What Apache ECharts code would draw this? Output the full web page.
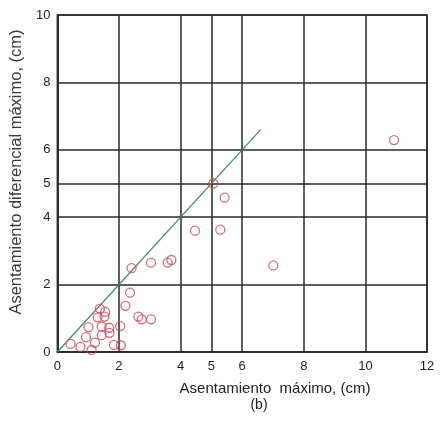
<!DOCTYPE html>
<html>
<head>
<meta charset="utf-8">
<script src="https://cdn.jsdelivr.net/npm/echarts@6/dist/echarts.min.js"></script>
<style>html,body{margin:0;padding:0;background:#fff}#c{width:442px;height:421px}</style>
</head>
<body>
<div id="c"></div>
<script>
// Data
var xValues = [0.43,0.75,0.93,1.01,1.11,1.22,1.31,1.38,1.44,1.44,1.53,1.55,1.68,1.69,1.84,2.04,2.06,2.21,2.36,2.41,2.63,2.74,3.04,3.04,3.58,3.70,4.47,5.06,5.29,5.43,7.01,10.93];
var yValues = [0.24,0.15,0.44,0.74,0.06,0.28,1.03,1.29,0.50,0.75,1.05,1.19,0.72,0.57,0.21,0.77,0.20,1.37,1.76,2.49,1.05,0.97,0.97,2.65,2.65,2.73,3.60,5.00,3.63,4.58,2.57,6.29];
var lineX = [0, 6.6];
var lineY = [0, 6.6];
var xTicks = [0,2,4,5,6,8,10,12];
var yTicks = [0,2,4,5,6,8,10];
var xTitle = 'Asentamiento  máximo, (cm)';
var subTitle = '(b)';
var yTitle = 'Asentamiento diferencial máximo, (cm)';

var pts = xValues.map(function(x,i){return [x, yValues[i]];});
var lineData = lineX.map(function(x,i){return [x, lineY[i]];});
var gridMarks = xTicks.map(function(v){return {xAxis: v};}).concat(yTicks.map(function(v){return {yAxis: v};}));

var font = 'Liberation Sans, Arial, sans-serif';
var chart = echarts.init(document.getElementById('c'), null, {renderer:'canvas'});
chart.setOption({
  animation: false,
  backgroundColor: '#fff',
  grid: {left: 57, right: 15, top: 15, bottom: 69, show: true, borderColor: '#2a2a2a', borderWidth: 1.5, backgroundColor: 'transparent'},
  graphic: [
    {type: 'text', x: 275, y: 389, silent: true,
     style: {text: xTitle, font: '15px ' + font, fill: '#222', textAlign: 'center', textVerticalAlign: 'middle'}},
    {type: 'text', x: 259, y: 405, silent: true,
     style: {text: subTitle, font: '14px ' + font, fill: '#222', textAlign: 'center', textVerticalAlign: 'middle'}}
  ],
  xAxis: {
    type: 'value', min: 0, max: 12, interval: 1,
    splitLine: {show: false},
    axisTick: {show: false},
    axisLine: {show: true, lineStyle: {color: '#2a2a2a', width: 1.5}},
    axisLabel: {color: '#222', fontSize: 13, fontFamily: font, margin: 8,
      formatter: function(v){ return xTicks.indexOf(v) >= 0 ? String(v) : ''; }}
  },
  yAxis: {
    type: 'value', min: 0, max: 10, interval: 1,
    splitLine: {show: false},
    axisTick: {show: false},
    axisLine: {show: true, lineStyle: {color: '#2a2a2a', width: 1.5}},
    axisLabel: {color: '#222', fontSize: 13, fontFamily: font, margin: 7,
      formatter: function(v){ return yTicks.indexOf(v) >= 0 ? String(v) : ''; }},
    name: yTitle, nameLocation: 'middle', nameRotate: 90, nameGap: 24,
    nameTextStyle: {color: '#3a3a3a', fontSize: 16.5, fontFamily: font, padding: [0, 0, 0, 23]}
  },
  series: [
    {
      type: 'line', data: lineData, symbol: 'none', silent: true,
      lineStyle: {color: '#3d8a5f', width: 1.2}, z: 3,
      markLine: {
        silent: true, symbol: 'none', label: {show: false},
        lineStyle: {color: '#2a2a2a', width: 1.5, type: 'solid'},
        data: gridMarks, z: 1
      }
    },
    {
      type: 'scatter', data: pts, symbol: 'circle', symbolSize: 9, z: 4,
      itemStyle: {color: 'rgba(255,255,255,0)', borderColor: '#c8485a', borderWidth: 1.3}
    }
  ]
});
</script>
</body>
</html>
